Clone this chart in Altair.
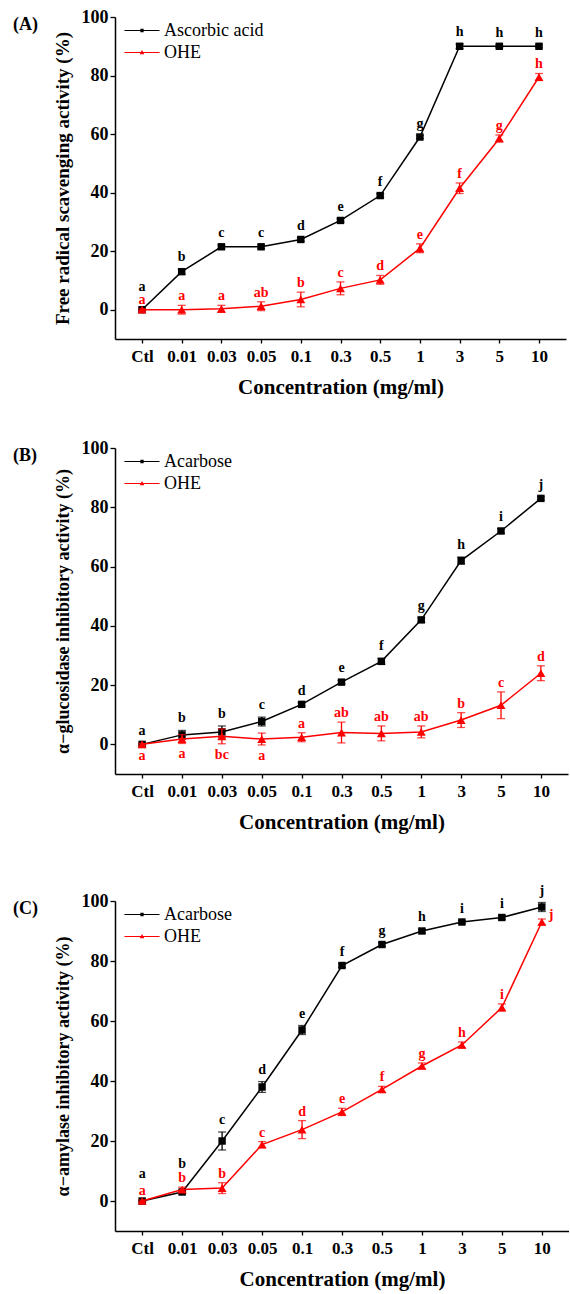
import altair as alt
import pandas as pd
import json

cats = ["Ctl", "0.01", "0.03", "0.05", "0.1", "0.3", "0.5", "1", "3", "5", "10"]

# Panel A
a_std_name = "Ascorbic acid"
a_std = [0, 13, 21.5, 21.5, 24, 30.5, 39, 59, 90, 90, 90]
a_std_err = [0.3, 0.8, 0.6, 0.6, 0.6, 0.6, 0.6, 0.5, 0.8, 0.5, 0.5]
a_std_let = ["a", "b", "c", "c", "d", "e", "f", "g", "h", "h", "h"]
a_ohe = [0, 0, 0.3, 1.2, 3.5, 7.3, 10.2, 21, 41.5, 58.5, 79.5]
a_ohe_err = [0.3, 1.5, 1.2, 1.5, 2.5, 2.2, 1.5, 1.5, 1.8, 1.2, 1.2]
a_ohe_let = ["a", "a", "a", "ab", "b", "c", "d", "e", "f", "g", "h"]

# Panel B
b_std_name = "Acarbose"
b_std = [0, 3.2, 4.2, 7.7, 13.5, 21, 28, 42, 62, 72, 83]
b_std_err = [0.3, 1.5, 2.0, 1.5, 0.6, 0.6, 1.0, 0.8, 1.2, 0.8, 0.5]
b_std_let = ["a", "b", "b", "c", "d", "e", "f", "g", "h", "i", "j"]
b_ohe = [0, 1.8, 2.7, 1.8, 2.4, 4.0, 3.7, 4.2, 8.2, 13.2, 24]
b_ohe_err = [0.3, 1.5, 2.5, 2.0, 1.5, 3.5, 2.5, 2.0, 2.5, 4.5, 2.5]
b_ohe_let = ["a", "a", "bc", "a", "a", "ab", "ab", "ab", "b", "c", "d"]

# Panel C
c_std_name = "Acarbose"
c_std = [0, 3, 20, 38, 57, 78.5, 85.5, 90, 93, 94.5, 98]
c_std_err = [0.3, 0.6, 3.0, 1.8, 1.5, 0.6, 0.6, 0.6, 0.5, 0.6, 1.5]
c_std_let = ["a", "b", "c", "d", "e", "f", "g", "h", "i", "i", "j"]
c_ohe = [0, 3.8, 4.3, 18.8, 23.8, 29.7, 37.2, 45, 52, 64.5, 93]
c_ohe_err = [0.3, 0.8, 1.8, 1.0, 3.0, 1.2, 1.0, 1.0, 1.0, 1.2, 1.0]
c_ohe_let = ["a", "b", "b", "c", "d", "e", "f", "g", "h", "i", "j"]

FONT = "Liberation Serif"
BLACK = "#000000"
RED = "#ff0000"

# legend symbols: a thin bar (the line) plus the marker, all filled
SQ_PATH = "M-1.6,-0.035H1.6V0.035H-1.6ZM-0.15,-0.15H0.15V0.15H-0.15Z"
TRI_PATH = "M-1.6,-0.035H1.6V0.035H-1.6ZM0,-0.22L0.21,0.16H-0.21Z"


def make_df(std_name, std, std_err, std_let, ohe, ohe_err, ohe_let):
    rows = []
    for name, vals, errs, lets in [(std_name, std, std_err, std_let),
                                   ("OHE", ohe, ohe_err, ohe_let)]:
        for c, v, e, l in zip(cats, vals, errs, lets):
            rows.append(dict(cat=c, series=name, val=v, lo=v - e, hi=v + e, letter=l))
    return pd.DataFrame(rows)


def f_series_cats(series, cat_list, include):
    lst = json.dumps(cat_list)
    op = ">=" if include else "<"
    return f"datum.series == '{series}' && indexof({lst}, datum.cat) {op} 0"


def panel(tag, std_name, std, std_err, std_let, ohe, ohe_err, ohe_let,
          ytitle, ytitle_size, width, height, std_special, ohe_below, ohe_right,
          top_extra=None):
    df = make_df(std_name, std, std_err, std_let, ohe, ohe_err, ohe_let)
    dom = [std_name, "OHE"]
    rng = [BLACK, RED]
    x = alt.X("cat:N", sort=cats, scale=alt.Scale(type="point", padding=0.68),
              axis=alt.Axis(title="Concentration (mg/ml)", labelAngle=0, tickSize=4,
                            labelFontSize=17, labelPadding=5.5, titlePadding=12,
                            titleFontSize=21))
    yscale = alt.Scale(domain=[-10, 100], nice=False, zero=False)
    y = alt.Y("val:Q", scale=yscale,
              axis=alt.Axis(title=ytitle, values=[0, 20, 40, 60, 80, 100], tickSize=5,
                            labelFontSize=18, labelPadding=2, titlePadding=9,
                            titleFontSize=ytitle_size))
    base = alt.Chart(df)
    layers = []
    for name, col, shp, sz in [(std_name, BLACK, "square", 55),
                               ("OHE", RED, "triangle-up", 80)]:
        sb = base.transform_filter(f"datum.series == '{name}'")
        layers.append(sb.mark_line(strokeWidth=1.5, color=col).encode(x=x, y=y))
        layers.append(sb.mark_rule(strokeWidth=1.3, color=col).encode(
            x=x, y=alt.Y("lo:Q", scale=yscale), y2="hi:Q"))
        layers.append(sb.mark_tick(thickness=1.3, size=8, color=col).encode(
            x=x, y=alt.Y("lo:Q", scale=yscale)))
        layers.append(sb.mark_tick(thickness=1.3, size=8, color=col).encode(
            x=x, y=alt.Y("hi:Q", scale=yscale)))
        layers.append(sb.mark_point(shape=shp, filled=True, size=sz, opacity=1,
                                    color=col).encode(x=x, y=y))

    leg = alt.Legend(title=None, orient="none", legendX=16, legendY=2.5, padding=0,
                     labelFont=FONT, labelFontSize=18, labelColor=BLACK,
                     labelFontWeight="normal",
                     symbolSize=480, symbolStrokeWidth=0, symbolOpacity=1,
                     labelOffset=11, rowPadding=2)
    dummy = base.mark_point(filled=True, opacity=0).encode(
        x=x, y=y,
        fill=alt.Fill("series:N", scale=alt.Scale(domain=dom, range=rng), legend=leg),
        shape=alt.Shape("series:N", scale=alt.Scale(domain=dom, range=[SQ_PATH, TRI_PATH]),
                        legend=leg))
    layers.append(dummy)

    def txt(filt, field, dy, dx=0, align="center", color=BLACK):
        return base.transform_filter(filt).mark_text(
            font=FONT, fontWeight="bold", fontSize=14, baseline="alphabetic",
            align=align, dx=dx, dy=dy, color=color).encode(
            x=x, y=alt.Y(field + ":Q", scale=yscale), text="letter:N")

    special_cats = list(std_special.keys())
    layers.append(txt(f_series_cats(std_name, special_cats, False), "hi", -8))
    for c, d in std_special.items():
        layers.append(txt(f_series_cats(std_name, [c], True), "hi", d))
    excl = ohe_below + ohe_right
    layers.append(txt(f_series_cats("OHE", excl, False), "hi", -5, color=RED))
    if ohe_below:
        layers.append(txt(f_series_cats("OHE", ohe_below, True), "lo", 15, color=RED))
    if ohe_right:
        layers.append(txt(f_series_cats("OHE", ohe_right, True), "val", -3, dx=7,
                          align="left", color=RED))

    tag_df = pd.DataFrame({"t": [tag]})
    tag_layer = alt.Chart(tag_df).mark_text(
        font=FONT, fontWeight="bold", fontSize=18, align="left", baseline="middle",
        color=BLACK).encode(x=alt.value(-102), y=alt.value(8), text="t:N")
    layers.append(tag_layer)
    if top_extra is not None:
        spacer = alt.Chart(tag_df).mark_text(
            fontSize=8, baseline="top", align="left", color="#ffffff").encode(
            x=alt.value(-60), y=alt.value(top_extra), text=alt.value("."))
        layers.append(spacer)

    return alt.layer(*layers).properties(width=width, height=height)


pA = panel("(A)", a_std_name, a_std, a_std_err, a_std_let, a_ohe, a_ohe_err, a_ohe_let,
           "Free radical scavenging activity (%)", 19, 451, 322,
           {"Ctl": -18}, [], [])
pB = panel("(B)", b_std_name, b_std, b_std_err, b_std_let, b_ohe, b_ohe_err, b_ohe_let,
           "\u03b1\u2212glucosidase inhibitory activity (%)", 18, 453, 326,
           {}, ["Ctl", "0.01", "0.03", "0.05"], [])
pC = panel("(C)", c_std_name, c_std, c_std_err, c_std_let, c_ohe, c_ohe_err, c_ohe_let,
           "\u03b1\u2212amylase inhibitory activity (%)", 18, 454, 330,
           {"Ctl": -22, "0.01": -22}, [], ["10"], top_extra=-26.5)

chart = alt.vconcat(pA, pB, pC, spacing=41).resolve_scale(
    fill="independent", shape="independent"
).resolve_legend(fill="independent", shape="independent").properties(
    padding={"left": 13, "top": 8, "right": 0, "bottom": 2}
).configure_view(stroke=None).configure_axis(
    labelFont=FONT, labelFontWeight="bold", labelColor=BLACK,
    titleFont=FONT, titleFontWeight="bold", titleColor=BLACK,
    domainColor=BLACK, domainWidth=1.5, tickColor=BLACK, tickWidth=1.3, grid=False
).configure_legend(labelFont=FONT)

chart.save("out.html", embed_options={"renderer": "svg", "actions": False})
